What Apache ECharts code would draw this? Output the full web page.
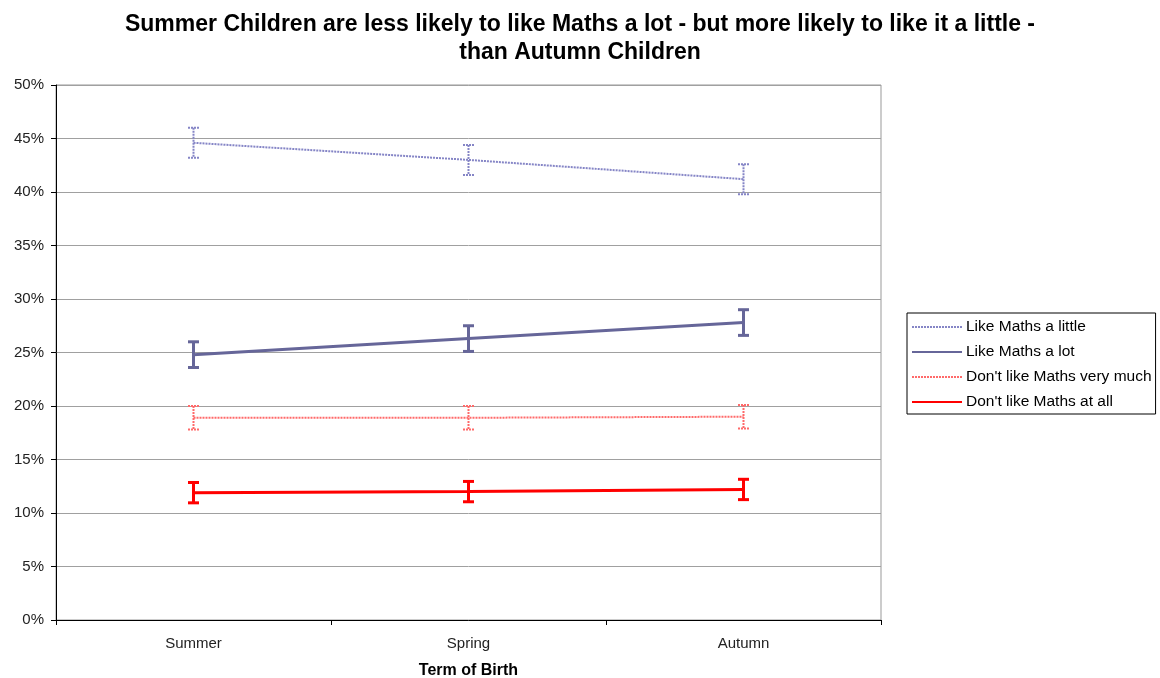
<!DOCTYPE html>
<html>
<head>
<meta charset="utf-8">
<script src="https://cdn.jsdelivr.net/npm/echarts@6/dist/echarts.min.js"></script>
<style>html,body{margin:0;padding:0;background:#fff}#c{width:1160px;height:678px}</style>
</head>
<body>
<div id="c"></div>
<script>
const categories = ['Summer', 'Spring', 'Autumn'];
const seriesNames = ['Like Maths a little', 'Like Maths a lot', "Don't like Maths very much", "Don't like Maths at all"];
const littleVals = [44.6, 43.0, 41.2];
const littleErr = [1.4, 1.4, 1.4];
const lotVals = [24.8, 26.3, 27.8];
const lotErr = [1.2, 1.2, 1.2];
const veryMuchVals = [18.9, 18.9, 19.0];
const veryMuchErr = [1.1, 1.1, 1.1];
const atAllVals = [11.9, 12.0, 12.2];
const atAllErr = [0.95, 0.95, 0.95];
const yTicks = [0, 5, 10, 15, 20, 25, 30, 35, 40, 45, 50];

const styles = [
  {color: '#8585c6', width: 2, dash: [2, 1]},
  {color: '#666699', width: 3, dash: null},
  {color: '#ff6a6a', width: 2, dash: [2, 1]},
  {color: '#ff0000', width: 3, dash: null}
];
const valsList = [littleVals, lotVals, veryMuchVals, atAllVals];
const errList = [littleErr, lotErr, veryMuchErr, atAllErr];

const chart = echarts.init(document.getElementById('c'));
const series = [];
valsList.forEach((vals, k) => {
  const st = styles[k];
  series.push({
    name: seriesNames[k], type: 'line', data: vals, symbol: 'none',
    lineStyle: {color: st.color, width: st.width, type: st.dash ? st.dash : 'solid'},
    itemStyle: {color: st.color}, z: 3
  });
  series.push({
    name: seriesNames[k] + ' err', type: 'custom',
    data: vals.map((v, i) => [i, v + errList[k][i], v - errList[k][i]]),
    encode: {x: 0, y: [1, 2]},
    z: 4,
    renderItem: function (params, api) {
      const hi = api.coord([api.value(0), api.value(1)]);
      const lo = api.coord([api.value(0), api.value(2)]);
      const hw = 5.5;
      const style = {stroke: st.color, lineWidth: st.width, lineDash: st.dash || null, fill: null};
      return {type: 'group', children: [
        {type: 'line', shape: {x1: hi[0], y1: hi[1], x2: lo[0], y2: lo[1]}, style: style},
        {type: 'line', shape: {x1: hi[0] - hw, y1: hi[1], x2: hi[0] + hw, y2: hi[1]}, style: style},
        {type: 'line', shape: {x1: lo[0] - hw, y1: lo[1], x2: lo[0] + hw, y2: lo[1]}, style: style}
      ]};
    }
  });
});

chart.setOption({
  animation: false,
  textStyle: {fontFamily: 'Liberation Sans, Arial, sans-serif'},
  title: {
    text: 'Summer Children are less likely to like Maths a lot - but more likely to like it a little -\nthan Autumn Children',
    left: 'center', top: 6,
    textStyle: {fontSize: 23, fontWeight: 'bold', color: '#000', lineHeight: 28, fontFamily: 'Liberation Sans, Arial, sans-serif'}
  },
  legend: {
    data: seriesNames,
    orient: 'vertical', left: 907, top: 313,
    borderColor: '#000', borderWidth: 1, padding: [6, 4, 4, 4],
    itemWidth: 50, itemHeight: 14, itemGap: 9,
    itemStyle: {opacity: 0},
    textStyle: {fontSize: 15.5, color: '#000', padding: [0, 0, 0, -1]}
  },
  grid: {left: 56, right: 279, top: 85, bottom: 58, show: true, borderColor: '#999', borderWidth: 1, containLabel: false, outerBoundsMode: 'none'},
  xAxis: {
    type: 'category', data: categories, boundaryGap: true,
    name: 'Term of Birth', nameLocation: 'middle', nameGap: 43,
    nameTextStyle: {fontSize: 16, fontWeight: 'bold', color: '#000'},
    axisLine: {lineStyle: {color: '#000', width: 1}},
    axisTick: {show: true, length: 5, lineStyle: {color: '#000'}},
    axisLabel: {fontSize: 15, color: '#222', margin: 16}
  },
  yAxis: {
    type: 'value', min: yTicks[0], max: yTicks[yTicks.length - 1], interval: 5,
    axisLine: {show: true, lineStyle: {color: '#000', width: 1}},
    axisTick: {show: true, length: 5, lineStyle: {color: '#000'}},
    axisLabel: {fontSize: 15, color: '#222', margin: 12, formatter: '{value}%'},
    splitLine: {lineStyle: {color: '#a0a0a0', width: 1}}
  },
  series: series
});
</script>
</body>
</html>
